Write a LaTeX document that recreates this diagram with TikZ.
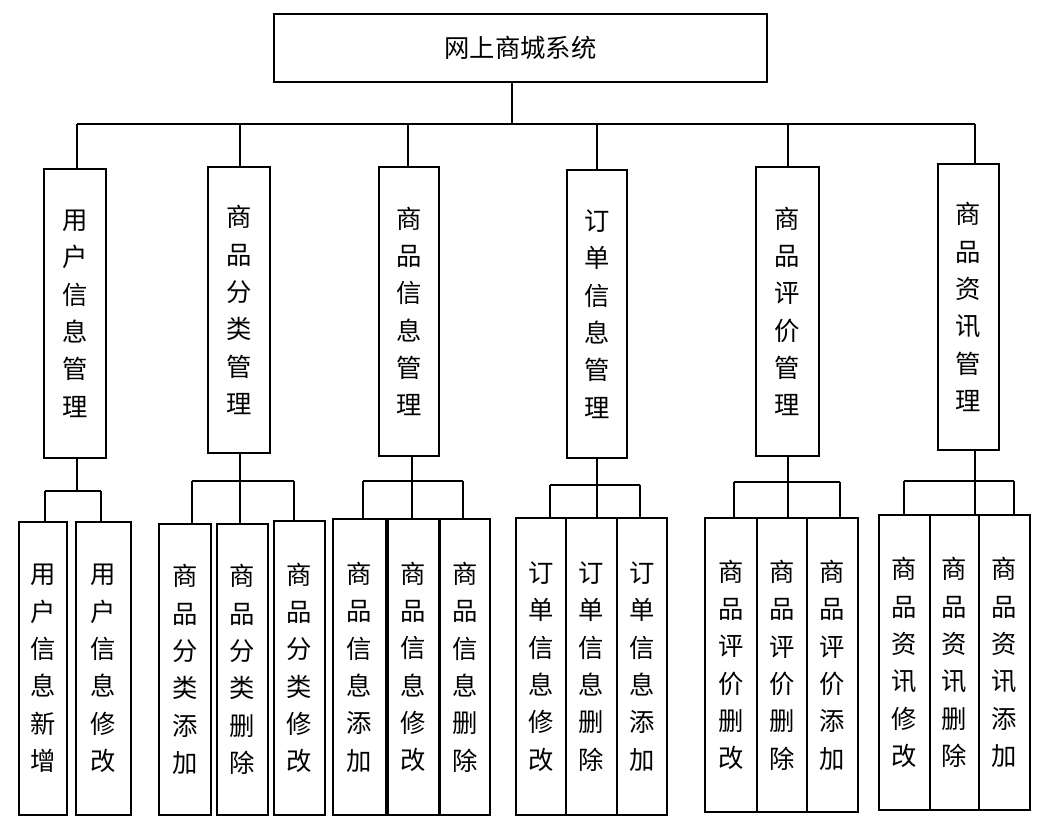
\documentclass[tikz,border=0pt]{standalone}
\usepackage{fontspec}
\newfontfamily\cjk{Noto Sans CJK SC}
\newcommand\bx[6]{\node[box,minimum width={(#4-#2)*0.75pt},minimum height={(#5-#3)*0.75pt}] (#1) at ({(#2+#4)/2},{(#3+#5)/2}) {#6};}
\newcommand\drop[4]{\draw[ln] (#2,#3) -- (#2,#3 |- #1.north);}
\newcommand\stem[3]{\draw[ln] (#2,#3 |- #1.south) -- (#2,#3);}
\begin{document}
\begin{tikzpicture}[x=0.75pt,y=-0.75pt,
  box/.style={draw,line width=1.2pt,inner sep=0pt,align=center,font=\cjk\fontsize{19}{28}\selectfont},
  ln/.style={line width=1.2pt}]
\useasboundingbox (0,0) rectangle (1037,815);
\bx{top}{274}{14}{767}{82}{网上商城系统}
\bx{a}{44}{169}{106}{458}{用\\户\\信\\息\\管\\理}
\bx{b}{208}{167}{270}{453}{商\\品\\分\\类\\管\\理}
\bx{c}{379}{167}{439}{456}{商\\品\\信\\息\\管\\理}
\bx{d}{567}{170}{627}{458}{订\\单\\信\\息\\管\\理}
\bx{e}{756}{167}{819}{456}{商\\品\\评\\价\\管\\理}
\bx{f}{938}{164}{999}{450}{商\\品\\资\\讯\\管\\理}
\stem{top}{512}{124}
\draw[ln] (77,124) -- (975,124);
\foreach \n/\x in {a/77,b/240,c/408,d/597,e/788,f/975} \draw[ln] (\x,124) -- (\x,124 |- \n.north);
% level 3
\bx{a1}{19}{522}{67}{815}{用\\户\\信\\息\\新\\增}
\bx{a2}{76}{522}{131}{815}{用\\户\\信\\息\\修\\改}
\bx{b1}{159}{524}{211}{815}{商\\品\\分\\类\\添\\加}
\bx{b2}{217}{524}{268}{815}{商\\品\\分\\类\\删\\除}
\bx{b3}{274}{521}{325}{815}{商\\品\\分\\类\\修\\改}
\bx{c1}{333}{519}{386}{815}{商\\品\\信\\息\\添\\加}
\bx{c2}{388}{519}{439}{815}{商\\品\\信\\息\\修\\改}
\bx{c3}{440}{519}{490}{815}{商\\品\\信\\息\\删\\除}
\bx{d1}{516}{518}{566}{815}{订\\单\\信\\息\\修\\改}
\bx{d2}{566}{518}{617}{815}{订\\单\\信\\息\\删\\除}
\bx{d3}{617}{518}{667}{815}{订\\单\\信\\息\\添\\加}
\bx{e1}{705}{518}{757}{812}{商\\品\\评\\价\\删\\改}
\bx{e2}{757}{518}{807}{812}{商\\品\\评\\价\\删\\除}
\bx{e3}{807}{518}{858}{812}{商\\品\\评\\价\\添\\加}
\bx{f1}{879}{515}{930}{810}{商\\品\\资\\讯\\修\\改}
\bx{f2}{930}{515}{979}{810}{商\\品\\资\\讯\\删\\除}
\bx{f3}{979}{515}{1030}{810}{商\\品\\资\\讯\\添\\加}
\stem{a}{77}{491} \draw[ln] (45,491) -- (101,491);
\drop{a1}{45}{491}{} \drop{a2}{101}{491}{}
\stem{b}{240}{481} \draw[ln] (192,481) -- (294,481);
\drop{b1}{192}{481}{} \drop{b2}{240}{481}{} \drop{b3}{294}{481}{}
\stem{c}{412}{481} \draw[ln] (363,481) -- (463,481);
\drop{c1}{363}{481}{} \drop{c2}{412}{481}{} \drop{c3}{463}{481}{}
\stem{d}{597}{485} \draw[ln] (550,485) -- (640,485);
\drop{d1}{550}{485}{} \drop{d2}{597}{485}{} \drop{d3}{640}{485}{}
\stem{e}{788}{482} \draw[ln] (734,482) -- (840,482);
\drop{e1}{734}{482}{} \drop{e2}{788}{482}{} \drop{e3}{840}{482}{}
\stem{f}{975}{481} \draw[ln] (904,481) -- (1014,481);
\drop{f1}{904}{481}{} \drop{f2}{975}{481}{} \drop{f3}{1014}{481}{}
\end{tikzpicture}
\end{document}
